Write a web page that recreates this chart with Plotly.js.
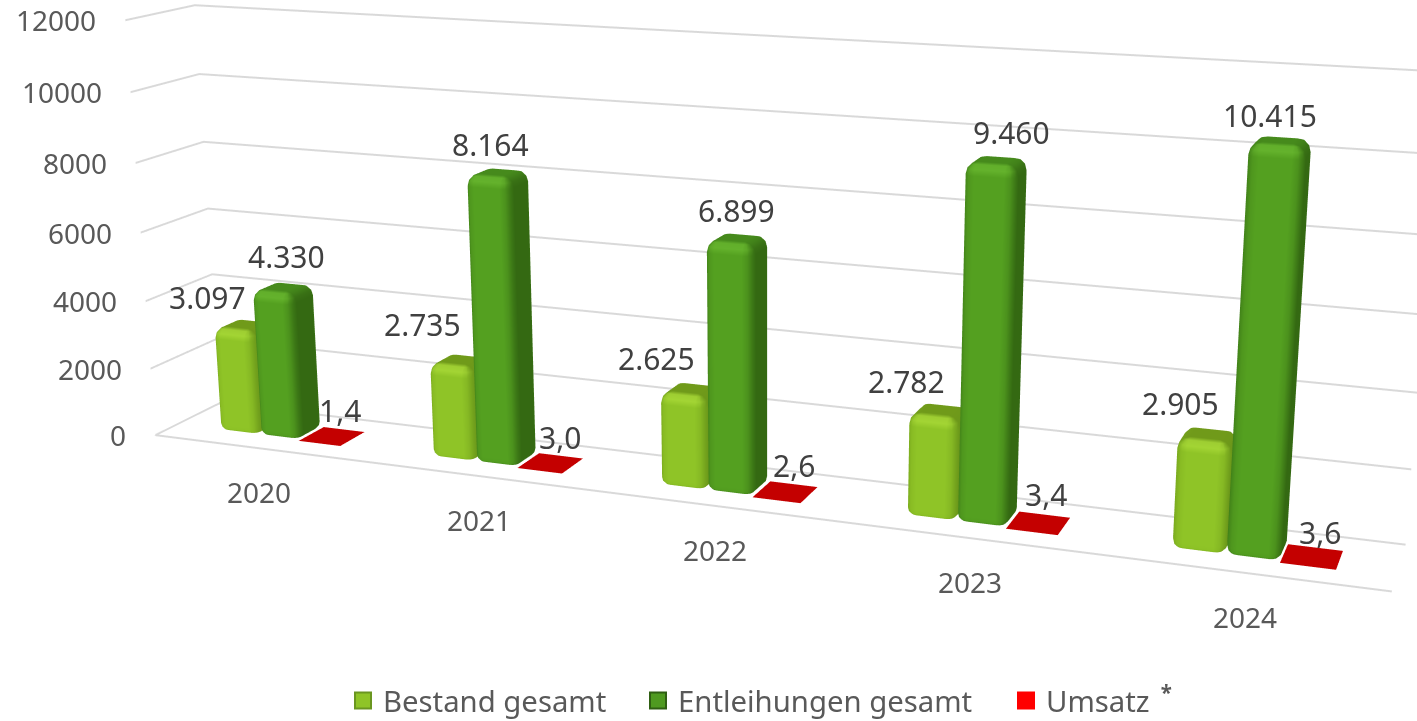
<!DOCTYPE html>
<html><head><meta charset="utf-8">
<script src="https://cdn.plot.ly/plotly-3.0.1.min.js"></script>
<style>html,body{margin:0;padding:0;width:1417px;height:721px;overflow:hidden;background:#fff}
#view{position:absolute;left:0;top:0;width:1417px;height:721px;overflow:hidden}
#plot{position:absolute;left:0;top:-649px;width:1542px;height:1924px}</style>
</head><body><div id="view"><div id="plot"></div></div>
<script>
const years=['2020','2021','2022','2023','2024'];
const bestand=[3097,2735,2625,2782,2905];
const entleihungen=[4330,8164,6899,9460,10415];
const umsatz=[1.4,3.0,2.6,3.4,3.6];
const zTicks=[0,2000,4000,6000,8000,10000,12000];
const names=['Bestand gesamt','Entleihungen gesamt','Umsatz <sup>&#8201;<b>*</b></sup>'];
// pixel nudges of the value labels
const nudgeAx=[-12,-12,-9,-8,-3],nudgeAy=[0,8,3,1,3];
const nudgeBx=[-1,-12,-6,10,-15],nudgeBy=[3,0,0,0,-2];
const nudgeCx=[-12,-10,-11,-12,-12],nudgeCy=[4,4,5,7,2];

const W=1542,H=1924,TOP=-649;
const FONT='"Noto Sans", sans-serif';
const UX=240,UY=116,UZ=416/12000;      // box proportions
const BW=0.195,X0=0.21,Y0=0.29,Y1=0.70;
const shadeA={front:[143,196,39],side:[106,150,26],left:[118,165,28],top:[112,154,26],hl:[176,226,60],bot:[120,170,28]};
const shadeB={front:[84,160,32],side:[52,105,18],left:[62,125,24],top:[70,138,28],hl:[110,190,50],bot:[60,120,24]};

function mix(n,s){
  const [nx,ny,nz]=n;
  const w=[[ny<0?ny*ny:0,s.front],[ny>0?ny*ny:0,s.top],[nx>0?nx*nx:0,s.side],[nx<0?nx*nx:0,s.left],[nz>0?nz*nz:0,s.top],[nz<0?nz*nz:0,s.bot]];
  let c=[0,0,0],t=0;
  w.forEach(([a,col])=>{t+=a;col.forEach((v,i)=>c[i]+=a*v)});
  c=c.map(v=>v/t);
  const h=Math.max(0,-ny)*Math.max(0,nz)*2;
  const hh=Math.min(1,h*h*0.9);
  c=c.map((v,i)=>v*(1-hh)+s.hl[i]*hh);
  return 'rgb('+c.map(Math.round).join(',')+')';
}
function addBar(m,x0,x1,y0,y1,h,s){
  const R=10,rt=11,rb=7,SEG=3,LV=3;
  const hw=h*UZ;
  const levels=[];
  for(let i=0;i<=LV;i++){const a=(i/LV)*Math.PI/2;levels.push({ins:rb*(1-Math.sin(a)),z:rb*(1-Math.cos(a)),nh:Math.sin(a),nz:-Math.cos(a)*0.5});}
  for(let i=0;i<=LV;i++){const a=(i/LV)*Math.PI/2;levels.push({ins:rt*(1-Math.cos(a)),z:hw-rt+rt*Math.sin(a),nh:Math.cos(a),nz:Math.sin(a)});}
  const wx=(x1-x0)*UX,wy=(y1-y0)*UY;
  const base=m.x.length;let ringN=0;
  levels.forEach((L,li)=>{
    const r=Math.max(0.5,R-L.ins);
    const corners=[[wx-L.ins-r,L.ins+r,-Math.PI/2],[wx-L.ins-r,wy-L.ins-r,0],[L.ins+r,wy-L.ins-r,Math.PI/2],[L.ins+r,L.ins+r,Math.PI]];
    let n=0;
    corners.forEach(([cx,cy,a0])=>{
      for(let k=0;k<=SEG;k++){
        const a=a0+(k/SEG)*Math.PI/2,ca=Math.cos(a),sa=Math.sin(a);
        m.x.push(x0+(cx+r*ca)/UX);m.y.push(y0+(cy+r*sa)/UY);m.z.push(L.z/UZ);
        const len=Math.hypot(L.nh,L.nz);
        m.c.push(mix([L.nh*ca/len,L.nh*sa/len,L.nz/len],s));n++;
      }
    });
    ringN=n;
    if(li>0){
      const a=base+(li-1)*n,b=base+li*n;
      for(let q=0;q<n;q++){const q2=(q+1)%n;
        m.i.push(a+q,a+q);m.j.push(a+q2,b+q2);m.k.push(b+q2,b+q);}
    }
  });
  const last=base+(levels.length-1)*ringN,ctr=m.x.length;
  m.x.push(x0+wx/2/UX);m.y.push(y0+wy/2/UY);m.z.push(hw/UZ);m.c.push(mix([0,0,1],s));
  for(let q=0;q<ringN;q++){m.i.push(ctr);m.j.push(last+q);m.k.push(last+(q+1)%ringN);}
}
function addPlate(m,x0,x1,y0,y1,h,col){
  const b=m.x.length;
  [[x0,y0],[x1,y0],[x1,y1],[x0,y1]].forEach(([x,y])=>{m.x.push(x);m.y.push(y);m.z.push(h);m.c.push(col);});
  m.i.push(b,b);m.j.push(b+1,b+2);m.k.push(b+2,b+3);
}
function newMesh(){return {x:[],y:[],z:[],i:[],j:[],k:[],c:[]};}
const mA=newMesh(),mB=newMesh(),mC=newMesh();
years.forEach((_,n)=>{
  const L=n-0.5+X0;
  addBar(mA,L,L+BW,Y0,Y1,bestand[n],shadeA);
  addBar(mB,L+BW,L+2*BW,Y0,Y1,entleihungen[n],shadeB);
  addPlate(mC,L+2*BW,L+3*BW,Y0,Y1,umsatz[n],'rgb(196,0,0)');
});
const flat={ambient:1,diffuse:0,specular:0,roughness:1,fresnel:0};
function meshTrace(m,name){return {type:'mesh3d',name,x:m.x,y:m.y,z:m.z,i:m.i,j:m.j,k:m.k,vertexcolor:m.c,lighting:flat,hoverinfo:'skip',showscale:false,flatshading:false};}
function legendTrace(name,col,line,lg){return {type:'scatter3d',mode:'markers',name,x:[null],y:[null],z:[null],showlegend:true,legend:lg,hoverinfo:'skip',
  marker:{symbol:'square',size:16,color:col,line:{color:line,width:2}}};}
const traces=[meshTrace(mA,names[0]),meshTrace(mB,names[1]),meshTrace(mC,names[2]),
  legendTrace(names[0],'#8fc427','#6a9620','legend'),legendTrace(names[1],'#4f9a20','#2f5f12','legend2'),legendTrace(names[2],'#ff0000','#ff0000','legend3')];

const ann=[];
const de=v=>v.toLocaleString('de-DE');
const lab=(x,y,z,text,size,color,xs,ys,anchor)=>ann.push({x,y,z,text,showarrow:false,xanchor:anchor||'center',yanchor:'middle',xshift:xs,yshift:ys,font:{family:FONT,size,color}});
zTicks.forEach(t=>lab(-0.5,0,t,String(t),28,'#595959',-27,0,'right'));
years.forEach((y,n)=>lab(n,0,0,y,28,'#595959',0,-44));
years.forEach((_,n)=>{
  const L=n-0.5+X0,yc=(Y0+Y1)/2;
  lab(L+BW/2,yc,bestand[n],de(bestand[n]),30,'#404040',-25+nudgeAx[n],27+nudgeAy[n]);
  lab(L+1.5*BW,yc,entleihungen[n],de(entleihungen[n]),30,'#404040',5+nudgeBx[n],27+nudgeBy[n]);
  lab(L+2.5*BW,yc,umsatz[n],umsatz[n].toLocaleString('de-DE',{minimumFractionDigits:1}),30,'#404040',20+nudgeCx[n],22+nudgeCy[n]);
});
const axisOff={showticklabels:false,ticks:'',title:{text:''},showbackground:false,zeroline:false,showspikes:false,autorange:false};
const layout={width:W,height:H,margin:{l:0,r:0,t:0,b:0},paper_bgcolor:'#fff',showlegend:true,font:{family:FONT},
  scene:{domain:{x:[0,1],y:[0,1]},aspectmode:'manual',aspectratio:{x:3,y:0.289,z:1.036},
    camera:{eye:{x:1.849,y:-4.785,z:1.278},center:{x:0.0815,y:0.0037,z:-0.093},up:{x:0,y:0,z:1},projection:{type:'perspective'}},
    xaxis:{...axisOff,range:[-0.5,4.5],showgrid:false,showline:true,linecolor:'#d9d9d9',linewidth:4},
    yaxis:{...axisOff,range:[0,1],showgrid:false,showline:false},
    zaxis:{...axisOff,range:[0,12000],tickvals:zTicks,showgrid:true,gridcolor:'#d9d9d9',gridwidth:4,showline:false},
    annotations:ann}};
const lg=(px)=>({orientation:'h',x:px/W,xanchor:'left',y:1-(701-TOP)/H,yanchor:'middle',font:{family:FONT,size:29.3,color:'#595959'},bgcolor:'rgba(0,0,0,0)',itemclick:false,itemdoubleclick:false});
layout.legend=lg(343);layout.legend2=lg(638);layout.legend3=lg(1006);
Plotly.newPlot('plot',traces,layout,{displayModeBar:false});
</script></body></html>
